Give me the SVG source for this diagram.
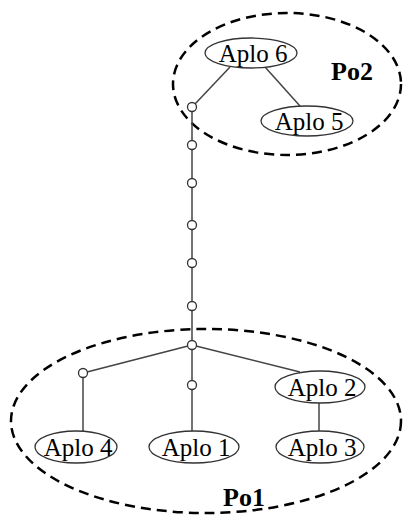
<svg xmlns="http://www.w3.org/2000/svg" width="403" height="522" viewBox="0 0 403 522">
  <style>
    .pool { fill: none; stroke: #000; stroke-width: 2.5; stroke-dasharray: 10 6; }
    .aplo { fill: #fff; stroke: #333; stroke-width: 1.3; }
    .joint { fill: #fff; stroke: #333; stroke-width: 1.3; }
    .edge { stroke: #444; stroke-width: 1.5; fill: none; }
    .lbl { font-family: "Liberation Serif", "Times New Roman", serif; font-size: 25px; fill: #000; text-anchor: middle; }
    .plbl { font-family: "Liberation Serif", "Times New Roman", serif; font-size: 26px; font-weight: bold; fill: #000; text-anchor: middle; }
  </style>
  <rect width="403" height="522" fill="#fff"/>

  <!-- pools -->
  <g id="po2">
    <ellipse class="pool" cx="287" cy="84" rx="114" ry="71"/>
    <text class="plbl" x="352" y="80">Po2</text>
  </g>
  <g id="po1">
    <ellipse class="pool" cx="206" cy="421" rx="195" ry="92"/>
    <text class="plbl" x="244" y="506">Po1</text>
  </g>

  <!-- connectors -->
  <g id="connectors">
    <line class="edge" x1="230" y1="67" x2="195" y2="104"/>
    <line class="edge" x1="265" y1="67" x2="300" y2="106"/>
    <line class="edge" x1="192" y1="111" x2="192" y2="381"/>
    <line class="edge" x1="192" y1="389" x2="192" y2="431"/>
    <line class="edge" x1="188" y1="346" x2="87" y2="372"/>
    <line class="edge" x1="83" y1="377" x2="83" y2="431"/>
    <line class="edge" x1="196" y1="346" x2="300" y2="372"/>
    <line class="edge" x1="319" y1="403" x2="319" y2="432"/>
  </g>

  <!-- junction points -->
  <g id="joints">
    <circle class="joint" cx="192" cy="107" r="4.5"/>
    <circle class="joint" cx="192" cy="145" r="4.5"/>
    <circle class="joint" cx="192" cy="183" r="4.5"/>
    <circle class="joint" cx="192" cy="225" r="4.5"/>
    <circle class="joint" cx="192" cy="263" r="4.5"/>
    <circle class="joint" cx="192" cy="306" r="4.5"/>
    <circle class="joint" cx="192" cy="345" r="4.5"/>
    <circle class="joint" cx="192" cy="385" r="4.5"/>
    <circle class="joint" cx="83" cy="373" r="4.5"/>
  </g>

  <g id="aplo6">
    <ellipse class="aplo" cx="251" cy="53" rx="46" ry="15"/>
    <text class="lbl" x="253" y="62">Aplo 6</text>
  </g>
  <g id="aplo5">
    <ellipse class="aplo" cx="307" cy="121" rx="46" ry="15"/>
    <text class="lbl" x="309" y="130">Aplo 5</text>
  </g>
  <g id="aplo2">
    <ellipse class="aplo" cx="320" cy="387" rx="45" ry="16"/>
    <text class="lbl" x="322" y="396">Aplo 2</text>
  </g>
  <g id="aplo4">
    <ellipse class="aplo" cx="76" cy="447" rx="41" ry="16"/>
    <text class="lbl" x="78" y="456">Aplo 4</text>
  </g>
  <g id="aplo1">
    <ellipse class="aplo" cx="194" cy="447" rx="45" ry="16"/>
    <text class="lbl" x="196" y="456">Aplo 1</text>
  </g>
  <g id="aplo3">
    <ellipse class="aplo" cx="320" cy="447" rx="44" ry="16"/>
    <text class="lbl" x="322" y="456">Aplo 3</text>
  </g>
</svg>
